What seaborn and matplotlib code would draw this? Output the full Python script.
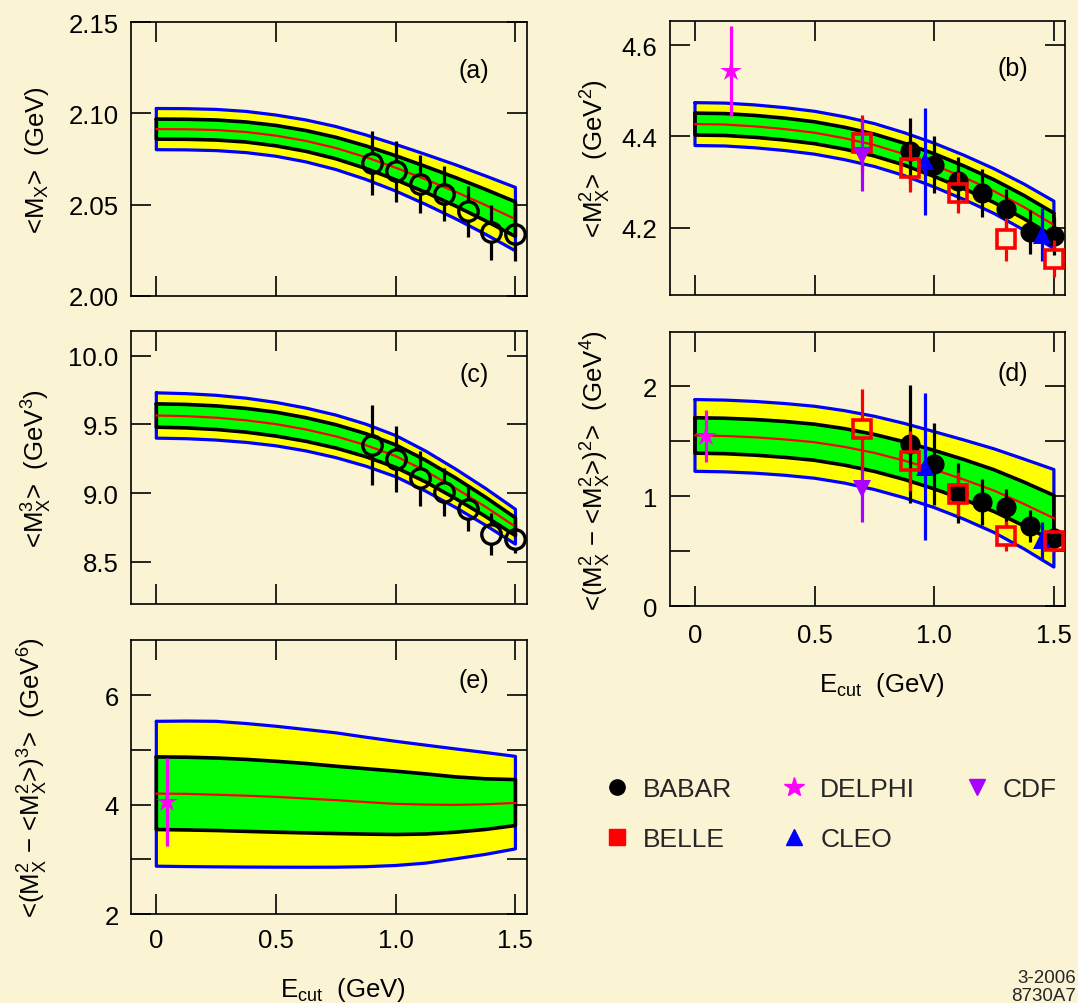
import numpy as np
import pandas as pd
import matplotlib
matplotlib.use("Agg")
import matplotlib.pyplot as plt
import seaborn as sns
from matplotlib.lines import Line2D

# ---------------- data ----------------
xg = [0.0, 0.125, 0.25, 0.375, 0.5, 0.625, 0.75, 0.875, 1.0, 1.125, 1.25, 1.375, 1.5]

# (a) <M_X>
a_center = [2.0914, 2.0913, 2.0909, 2.0898, 2.0878, 2.0849, 2.0810, 2.0760, 2.0702,
            2.0638, 2.0570, 2.0497, 2.0420]
a_inner = [0.0055, 0.0055, 0.0055, 0.0055, 0.0056, 0.0057, 0.0059, 0.0062, 0.0066,
           0.0071, 0.0078, 0.0086, 0.0095]
a_outer = [0.0113, 0.0113, 0.0113, 0.0113, 0.0113, 0.0115, 0.0118, 0.0122, 0.0128,
           0.0137, 0.0148, 0.0160, 0.0174]
a_x = [0.9, 1.0, 1.1, 1.2, 1.3, 1.4, 1.5]
a_y = [2.0728, 2.0682, 2.0613, 2.0560, 2.0463, 2.0347, 2.0338]
a_err = [0.0178, 0.0169, 0.0160, 0.0150, 0.0140, 0.0149, 0.0150]

# (b) <M_X^2>
b_center = [4.427, 4.426, 4.422, 4.416, 4.408, 4.396, 4.381, 4.361, 4.337, 4.310,
            4.280, 4.245, 4.206]
b_inner = [0.024, 0.024, 0.024, 0.024, 0.024, 0.024, 0.024, 0.024, 0.025, 0.025,
           0.025, 0.0255, 0.026]
b_outer = [0.047, 0.047, 0.047, 0.047, 0.047, 0.047, 0.047, 0.047, 0.048, 0.0485,
           0.049, 0.0505, 0.052]
babar_x = [0.9, 1.0, 1.1, 1.2, 1.3, 1.4, 1.5]
b_babar = [4.368, 4.338, 4.302, 4.276, 4.240, 4.190, 4.181]
b_babar_err = [0.072, 0.063, 0.053, 0.053, 0.045, 0.048, 0.042]
belle_x = [0.7, 0.9, 1.1, 1.3, 1.5]
b_belle = [4.385, 4.331, 4.277, 4.174, 4.132]
b_belle_err = [0.062, 0.053, 0.044, 0.048, 0.041]
cleo_x = [0.96, 1.45]
b_cleo = [4.345, 4.184]
b_cleo_err = [0.118, 0.058]
b_delphi_x = [0.15]
b_delphi = [4.543]
b_delphi_err = [0.099]
cdf_x = [0.7]
b_cdf = [4.358]
b_cdf_err = [0.077]

# (c) <M_X^3>
c_center = [9.565, 9.560, 9.549, 9.530, 9.502, 9.463, 9.413, 9.349, 9.269, 9.160,
            9.035, 8.900, 8.755]
c_inner = [0.085, 0.0855, 0.086, 0.0865, 0.087, 0.086, 0.085, 0.084, 0.082, 0.079,
           0.075, 0.070, 0.065]
c_outer = [0.165, 0.164, 0.163, 0.161, 0.158, 0.156, 0.155, 0.153, 0.150, 0.146,
           0.140, 0.134, 0.127]
c_x = [0.9, 1.0, 1.1, 1.2, 1.3, 1.4, 1.5]
c_y = [9.350, 9.248, 9.107, 9.008, 8.886, 8.702, 8.667]
c_err = [0.29, 0.237, 0.20, 0.175, 0.16, 0.15, 0.10]

# (d) <(M_X^2 - <M_X^2>)^2>
d_center = [1.553, 1.548, 1.536, 1.517, 1.491, 1.449, 1.394, 1.324, 1.242, 1.151,
            1.051, 0.930, 0.800]
d_inner = [0.161, 0.161, 0.162, 0.163, 0.164, 0.166, 0.168, 0.171, 0.175, 0.182,
           0.190, 0.199, 0.208]
d_outer = [0.326, 0.326, 0.326, 0.326, 0.327, 0.329, 0.333, 0.338, 0.345, 0.360,
           0.380, 0.408, 0.443]
d_babar = [1.475, 1.294, 1.030, 0.950, 0.900, 0.727, 0.625]
d_babar_err = [0.54, 0.372, 0.27, 0.21, 0.17, 0.145, 0.10]
d_belle = [1.612, 1.320, 1.018, 0.642, 0.592]
d_belle_err = [0.36, 0.27, 0.20, 0.137, 0.095]
d_cleo = [1.27, 0.60]
d_cleo_err = [0.667, 0.17]
d_delphi_x = [0.045]
d_delphi = [1.551]
d_delphi_err = [0.235]
d_cdf = [1.07]
d_cdf_err = [0.30]

# (e) <(M_X^2 - <M_X^2>)^3>
e_outer_hi = [5.52, 5.525, 5.52, 5.48, 5.43, 5.37, 5.31, 5.23, 5.155, 5.085, 5.016,
              4.95, 4.88]
e_inner_hi = [4.87, 4.865, 4.85, 4.825, 4.79, 4.75, 4.70, 4.655, 4.61, 4.56, 4.505,
              4.47, 4.456]
e_center = [4.20, 4.195, 4.18, 4.162, 4.14, 4.11, 4.08, 4.045, 4.012, 4.000, 3.994,
            4.005, 4.03]
e_inner_lo = [3.544, 3.536, 3.526, 3.51, 3.495, 3.482, 3.47, 3.46, 3.453, 3.462,
              3.495, 3.545, 3.617]
e_outer_lo = [2.874, 2.867, 2.862, 2.858, 2.856, 2.855, 2.856, 2.865, 2.887, 2.93,
              3.009, 3.09, 3.19]
e_delphi_x = [0.045]
e_delphi = [4.042]
e_delphi_err = [0.80]

# ---------------- style ----------------
sns.set_theme(style="ticks")
plt.rcParams.update({
    "font.family": ["Liberation Sans", "DejaVu Sans"],
    "mathtext.fontset": "custom",
    "mathtext.rm": "Liberation Sans",
    "mathtext.it": "Liberation Sans:italic",
    "mathtext.bf": "Liberation Sans:bold",
    "axes.unicode_minus": False,
})

BG = "#FAF3D4"
YEL = "#FFFF00"
GRN = "#00FF00"
BLU = "#0000FF"
RED = "#FF0000"
MAG = "#FF00FF"
PUR = "#AA00FF"
FS = 18.5

fig = plt.figure(figsize=(10.78, 10.04), dpi=100)
fig.patch.set_facecolor(BG)

pos = {
    "a": [0.1217, 0.7045, 0.3671, 0.2723],
    "b": [0.6214, 0.7055, 0.3669, 0.2726],
    "c": [0.1217, 0.3974, 0.3671, 0.2716],
    "d": [0.6214, 0.3951, 0.3669, 0.2729],
    "e": [0.1217, 0.0886, 0.3671, 0.2732],
}
XLIM = (-0.105, 1.548)


def make_ax(key, ylim, yticks, yticklabels, xlabels, xpad=10):
    ax = fig.add_axes(pos[key])
    ax.set_facecolor("none")
    ax.set_xlim(*XLIM)
    ax.set_ylim(*ylim)
    ax.set_xticks([0, 0.5, 1.0, 1.5])
    if xlabels:
        ax.set_xticklabels(["0", "0.5", "1.0", "1.5"])
    else:
        ax.set_xticklabels([])
    ax.set_yticks(yticks)
    ax.set_yticklabels(yticklabels)
    ax.tick_params(axis="both", which="both", direction="in", length=14.5,
                   width=1.2, top=True, right=True, labelsize=FS, colors="black")
    ax.tick_params(axis="x", pad=xpad)
    ax.tick_params(axis="y", pad=9)
    for s in ax.spines.values():
        s.set_linewidth(1.2)
        s.set_color("black")
    return ax


def band(ax, x, olo, ohi, ilo, ihi, cen):
    ax.fill_between(x, olo, ohi, color=YEL, lw=0, zorder=1)
    ax.fill_between(x, ilo, ihi, color=GRN, lw=0, zorder=2)
    xs = list(x) + list(x)[::-1] + [x[0]]
    ax.plot(xs, list(ohi) + list(olo)[::-1] + [ohi[0]], color=BLU, lw=2.3,
            zorder=3, solid_joinstyle="round")
    ax.plot(xs, list(ihi) + list(ilo)[::-1] + [ihi[0]], color="black", lw=2.6,
            zorder=4, solid_joinstyle="round")
    sns.lineplot(x=list(x), y=list(cen), ax=ax, color=RED, lw=1.6,
                 estimator=None, sort=False, zorder=5, legend=False)


def points(ax, x, y, err, marker, ms, mfc, mec, ecolor, gap_px=0.0, mew=0.0, z=6):
    y0, y1 = ax.get_ylim()
    g = gap_px * (y1 - y0) / ax.bbox.height
    for xi, yi, ei in zip(x, y, err):
        ax.plot([xi, xi], [yi + g, yi + ei], color=ecolor, lw=2.3,
                solid_capstyle="butt", zorder=z)
        ax.plot([xi, xi], [yi - ei, yi - g], color=ecolor, lw=2.3,
                solid_capstyle="butt", zorder=z)
    ax.plot(x, y, ls="none", marker=marker, ms=ms, mfc=mfc, mec=mec,
            mew=mew, zorder=z + 0.5)


def band_sym(ax, cen, inner, outer):
    c = np.array(cen)
    i = np.array(inner)
    o = np.array(outer)
    band(ax, xg, c - o, c + o, c - i, c + i, c)


# (a)
ax_a = make_ax("a", (2.0, 2.15), [2.00, 2.05, 2.10, 2.15],
               ["2.00", "2.05", "2.10", "2.15"], False)
band_sym(ax_a, a_center, a_inner, a_outer)
points(ax_a, a_x, a_y, a_err, "o", 14, "none", "black", "black", gap_px=10, mew=2.4)

# (b)
ax_b = make_ax("b", (4.053, 4.653), [4.2, 4.4, 4.6], ["4.2", "4.4", "4.6"], False)
band_sym(ax_b, b_center, b_inner, b_outer)
points(ax_b, babar_x, b_babar, b_babar_err, "o", 14.5, "black", "black", "black", z=6)
points(ax_b, cleo_x, b_cleo, b_cleo_err, "^", 13, BLU, BLU, BLU, z=7)
points(ax_b, belle_x, b_belle, b_belle_err, "s", 13, "none", RED, RED, gap_px=9.5, mew=2.6, z=8)
points(ax_b, cdf_x, b_cdf, b_cdf_err, "v", 13, PUR, PUR, PUR, z=9)
points(ax_b, b_delphi_x, b_delphi, b_delphi_err, "*", 16, MAG, MAG, MAG, z=10)

# (c)
ax_c = make_ax("c", (8.192, 10.178), [8.5, 9.0, 9.5, 10.0],
               ["8.5", "9.0", "9.5", "10.0"], False)
band_sym(ax_c, c_center, c_inner, c_outer)
points(ax_c, c_x, c_y, c_err, "o", 14, "none", "black", "black", gap_px=10, mew=2.4)

# (d)
ax_d = make_ax("d", (0.0, 2.49), [0, 0.5, 1, 1.5, 2], ["0", "", "1", "", "2"], True, xpad=12)
band_sym(ax_d, d_center, d_inner, d_outer)
points(ax_d, babar_x, d_babar, d_babar_err, "o", 14.5, "black", "black", "black", z=6)
points(ax_d, cleo_x, d_cleo, d_cleo_err, "^", 13, BLU, BLU, BLU, z=7)
points(ax_d, cdf_x, d_cdf, d_cdf_err, "v", 13, PUR, PUR, PUR, z=8)
points(ax_d, belle_x, d_belle, d_belle_err, "s", 13, "none", RED, RED, gap_px=9.5, mew=2.6, z=9)
points(ax_d, d_delphi_x, d_delphi, d_delphi_err, "*", 16, MAG, MAG, MAG, z=10)

# (e)
ax_e = make_ax("e", (2.0, 7.01), [2, 3, 4, 5, 6], ["2", "", "4", "", "6"], True)
band(ax_e, xg, e_outer_lo, e_outer_hi, e_inner_lo, e_inner_hi, e_center)
points(ax_e, e_delphi_x, e_delphi, e_delphi_err, "*", 16, MAG, MAG, MAG, z=10)

# panel tags
for ax, tag, yy in [(ax_a, "(a)", 0.826), (ax_b, "(b)", 0.828), (ax_c, "(c)", 0.843),
                    (ax_d, "(d)", 0.851), (ax_e, "(e)", 0.853)]:
    ax.text(0.866, yy, tag, transform=ax.transAxes, ha="center", va="center",
            fontsize=18, color="black")

# axis labels
ylabels = {
    "a": (ax_a, r"<M$_\mathrm{X}$>  (GeV)", -0.220),
    "b": (ax_b, r"<M$_\mathrm{X}^2$>  (GeV$^2$)", -0.167),
    "c": (ax_c, r"<M$_\mathrm{X}^3$>  (GeV$^3$)", -0.220),
    "d": (ax_d, r"<(M$_\mathrm{X}^2$ − <M$_\mathrm{X}^2$>)$^2$>  (GeV$^4$)", -0.167),
    "e": (ax_e, r"<(M$_\mathrm{X}^2$ − <M$_\mathrm{X}^2$>)$^3$>  (GeV$^6$)", -0.228),
}
for key, (ax, txt, xc) in ylabels.items():
    ax.set_ylabel(txt, fontsize=FS, color="black")
    ax.yaxis.label.set_va("baseline")
    ax.yaxis.set_label_coords(xc, 0.5)

for ax, yy in ((ax_d, -0.31), (ax_e, -0.30)):
    ax.set_xlabel(r"E$_\mathrm{cut}$  (GeV)", fontsize=FS, color="black")
    ax.xaxis.label.set_va("baseline")
    ax.xaxis.set_label_coords(0.535, yy)

# legend
handles = [
    Line2D([], [], ls="none", marker="o", ms=11, mfc="black", mec="black"),
    Line2D([], [], ls="none", marker="s", ms=11, mfc=RED, mec=RED),
    Line2D([], [], ls="none", marker="*", ms=15, mfc=MAG, mec=MAG),
    Line2D([], [], ls="none", marker="^", ms=11, mfc=BLU, mec=BLU),
    Line2D([], [], ls="none", marker="v", ms=12, mfc=PUR, mec=PUR),
]
labels = ["BABAR", "BELLE", "DELPHI", "CLEO", "CDF"]
fig.legend(handles, labels, ncol=3, loc="upper left",
           bbox_to_anchor=(0.5598, 0.2250), frameon=False, fontsize=19,
           handlelength=1.0, handletextpad=0.5, columnspacing=1.83,
           labelspacing=0.99, borderpad=0.0, borderaxespad=0.0)

fig.text(0.998, 1 - 979 / 1004, "3-2006", ha="right", va="center", fontsize=13.5)
fig.text(0.998, 1 - 997 / 1004, "8730A7", ha="right", va="center", fontsize=13.5)

fig.savefig("out.png", dpi=100, facecolor=BG)
